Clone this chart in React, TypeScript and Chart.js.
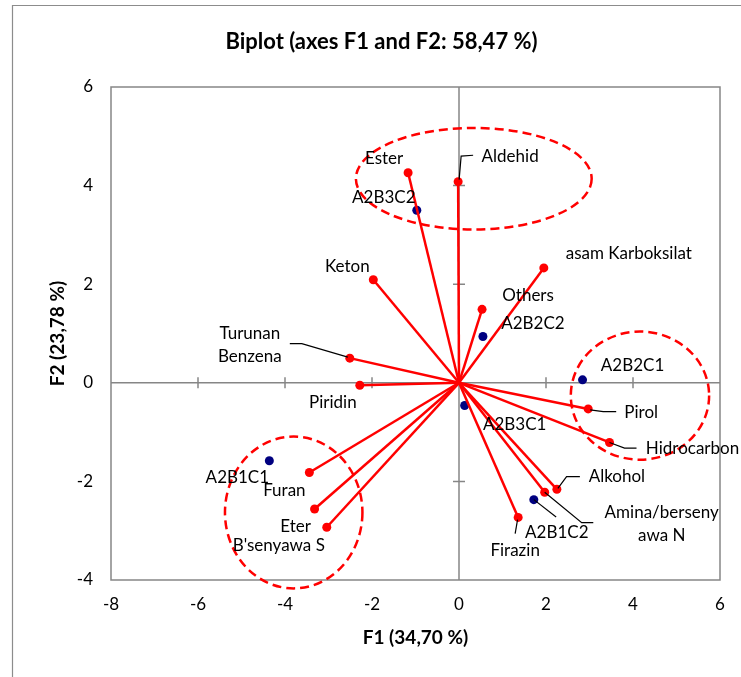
import React, { useEffect, useRef } from "react";
import { Chart, registerables } from "chart.js";

Chart.register(...registerables);

// ---------- data ----------
const variableNames = [
  "Ester",
  "Aldehid",
  "asam Karboksilat",
  "Others",
  "Keton",
  "Turunan\nBenzena",
  "Piridin",
  "Furan",
  "Eter",
  "B'senyawa S",
  "Pirol",
  "Hidrocarbon",
  "Alkohol",
  "Amina/berseny\nawa N",
  "Firazin",
];
const variableF1 = [-1.17, -0.02, 1.95, 0.53, -1.97, -2.51, -2.28, -3.44, -3.32, -3.04, 2.97, 3.46, 2.25, 1.97, 1.36];
const variableF2 = [4.26, 4.08, 2.33, 1.49, 2.09, 0.5, -0.05, -1.82, -2.56, -2.93, -0.53, -1.21, -2.16, -2.22, -2.73];

const observationNames = ["A2B3C2", "A2B2C2", "A2B2C1", "A2B3C1", "A2B1C2", "A2B1C1"];
const observationF1 = [-0.97, 0.55, 2.84, 0.13, 1.72, -4.36];
const observationF2 = [3.5, 0.94, 0.06, -0.46, -2.37, -1.58];

const xTicks = [-8, -6, -4, -2, 0, 2, 4, 6];
const yTicks = [-4, -2, 0, 2, 4, 6];

// dashed group outlines (centre and radii in axis units)
const groupCenterF1 = [0.34, 4.16, -3.8];
const groupCenterF2 = [4.14, -0.26, -2.63];
const groupRadiusF1 = [2.71, 1.59, 1.58];
const groupRadiusF2 = [1.03, 1.3, 1.54];

const chartTitle = "Biplot (axes F1 and F2: 58,47 %)";
const xTitle = "F1 (34,70 %)";
const yTitle = "F2 (23,78 %)";

// ---------- styling / layout ----------
const FONT = "Lato";
const RED = "#FF0000";
const NAVY = "#000080";
const AXIS_GRAY = "#868686";
const FRAME_GRAY = "#8c8c8c";
const LABEL_SIZE = 17;
const AXIS_TITLE_SIZE = 19;

// label centre offsets (px) from its marker
const variableLabelOffsets: [number, number][] = [
  [-24, -14],
  [52, -25],
  [85, -14],
  [46, -14],
  [-26, -13],
  [-100, -13],
  [-27, 17],
  [-25, 18],
  [-19, 18],
  [-48, 18],
  [53, 4],
  [83, 6],
  [60, -13],
  [117, 32],
  [-3, 33],
];
const observationLabelOffsets: [number, number][] = [
  [-33, -13],
  [50, -13],
  [50, -14],
  [50, 19],
  [23, 33],
  [-32, 17],
];
// leader lines (px offsets from marker)
const variableLeaders: ([number, number][] | null)[] = [
  null,
  [[1, -2], [3, -25.5], [15, -26.4]],
  null,
  null,
  null,
  [[-2, -1], [-48, -14.5], [-60, -14.5]],
  null,
  null,
  null,
  null,
  [[2, 1], [15, 2.7], [28, 2.7]],
  [[0, 0], [15, 5.6], [27, 5.6]],
  [[1, -1], [9.7, -12.6], [23, -12.6]],
  [[0, 0], [37, 30.4], [48.6, 30.4]],
  [[-0.6, 2.3], [-3, 16.3]],
];
const observationLeaders: ([number, number][] | null)[] = [
  null,
  null,
  null,
  null,
  [[0, 0], [22.3, 17.3]],
  null,
];

function drawLabel(ctx: CanvasRenderingContext2D, text: string, cx: number, cy: number) {
  const lines = text.split("\n");
  const lh = 23.4;
  const startY = cy - ((lines.length - 1) * lh) / 2;
  lines.forEach((ln, i) => ctx.fillText(ln, cx, startY + i * lh));
}

const biplotPlugin = {
  id: "biplotDecor",
  beforeDraw(chart: any) {
    const { ctx } = chart;
    ctx.save();
    ctx.strokeStyle = FRAME_GRAY;
    ctx.lineWidth = 1.2;
    ctx.beginPath();
    ctx.moveTo(12.5, 700);
    ctx.lineTo(12.5, 5.5);
    ctx.lineTo(760, 5.5);
    ctx.stroke();
    ctx.restore();
  },
  beforeDatasetsDraw(chart: any) {
    const { ctx, chartArea: a, scales } = chart;
    const xs = scales.x;
    const ys = scales.y;
    ctx.save();
    ctx.strokeStyle = AXIS_GRAY;
    ctx.lineWidth = 1.5;
    ctx.strokeRect(a.left, a.top, a.right - a.left, a.bottom - a.top);
    const x0 = xs.getPixelForValue(0);
    const y0 = ys.getPixelForValue(0);
    ctx.beginPath();
    ctx.moveTo(a.left, y0);
    ctx.lineTo(a.right, y0);
    ctx.moveTo(x0, a.top);
    ctx.lineTo(x0, a.bottom);
    xTicks.forEach((v) => {
      if (v > xs.min && v < xs.max && v !== 0) {
        const px = xs.getPixelForValue(v);
        ctx.moveTo(px, y0 - 5.5);
        ctx.lineTo(px, y0 + 5.5);
      }
    });
    yTicks.forEach((v) => {
      if (v > ys.min && v < ys.max && v !== 0) {
        const py = ys.getPixelForValue(v);
        ctx.moveTo(x0 - 6, py);
        ctx.lineTo(x0 + 6, py);
      }
    });
    ctx.stroke();

    // group ellipses
    ctx.strokeStyle = RED;
    ctx.lineWidth = 2.5;
    ctx.setLineDash([9, 5]);
    groupCenterF1.forEach((c1, i) => {
      const cx = xs.getPixelForValue(c1);
      const cy = ys.getPixelForValue(groupCenterF2[i]);
      const rx = Math.abs(xs.getPixelForValue(c1 + groupRadiusF1[i]) - cx);
      const ry = Math.abs(ys.getPixelForValue(groupCenterF2[i] + groupRadiusF2[i]) - cy);
      ctx.beginPath();
      ctx.ellipse(cx, cy, rx, ry, 0, 0, Math.PI * 2);
      ctx.stroke();
    });
    ctx.restore();
  },
  afterDatasetsDraw(chart: any) {
    const { ctx, scales } = chart;
    const xs = scales.x;
    const ys = scales.y;
    ctx.save();
    // leader lines
    ctx.strokeStyle = "#000000";
    ctx.lineWidth = 1.2;
    const leaders = (f1: number[], f2: number[], defs: ([number, number][] | null)[]) => {
      defs.forEach((path, i) => {
        if (!path) return;
        const px = xs.getPixelForValue(f1[i]);
        const py = ys.getPixelForValue(f2[i]);
        ctx.beginPath();
        path.forEach(([dx, dy], k) => {
          if (k === 0) ctx.moveTo(px + dx, py + dy);
          else ctx.lineTo(px + dx, py + dy);
        });
        ctx.stroke();
      });
    };
    leaders(variableF1, variableF2, variableLeaders);
    leaders(observationF1, observationF2, observationLeaders);

    ctx.fillStyle = "#000000";
    ctx.font = `${LABEL_SIZE}px ${FONT}`;
    ctx.textAlign = "center";
    ctx.textBaseline = "middle";
    variableNames.forEach((name, i) => {
      const px = xs.getPixelForValue(variableF1[i]);
      const py = ys.getPixelForValue(variableF2[i]);
      const [dx, dy] = variableLabelOffsets[i];
      drawLabel(ctx, name, px + dx, py + dy);
    });
    observationNames.forEach((name, i) => {
      const px = xs.getPixelForValue(observationF1[i]);
      const py = ys.getPixelForValue(observationF2[i]);
      const [dx, dy] = observationLabelOffsets[i];
      drawLabel(ctx, name, px + dx, py + dy);
    });

    // chart title
    ctx.font = `bold 22px ${FONT}`;
    ctx.fillText(chartTitle, 381.5, 42);
    ctx.restore();
  },
};

export default function App() {
  const canvasRef = useRef<HTMLCanvasElement | null>(null);

  useEffect(() => {
    const canvas = canvasRef.current;
    if (!canvas) return;
    const variableDatasets = variableF1.map((f1, i) => ({
      label: variableNames[i],
      data: [
        { x: 0, y: 0 },
        { x: f1, y: variableF2[i] },
      ],
      showLine: true,
      borderColor: RED,
      borderWidth: 2.5,
      pointRadius: [0, 4.5],
      pointHoverRadius: [0, 4.5],
      pointBackgroundColor: RED,
      pointBorderColor: RED,
      pointBorderWidth: 0,
    }));
    const observationDataset = {
      label: "Observations",
      data: observationF1.map((f1, i) => ({ x: f1, y: observationF2[i] })),
      showLine: false,
      pointRadius: 4.5,
      pointHoverRadius: 4.5,
      pointBackgroundColor: NAVY,
      pointBorderColor: NAVY,
      pointBorderWidth: 0,
    };

    const chart = new Chart(canvas, {
      type: "scatter",
      data: { datasets: [...variableDatasets, observationDataset] as any },
      options: {
        animation: false,
        responsive: false,
        events: [],
        layout: { padding: { top: 87, right: 21, left: 0, bottom: 0 } },
        plugins: {
          legend: { display: false },
          tooltip: { enabled: false },
          title: { display: false },
        },
        scales: {
          x: {
            type: "linear",
            min: xTicks[0],
            max: xTicks[xTicks.length - 1],
            grid: { display: false, drawTicks: false },
            border: { display: false },
            ticks: {
              stepSize: 2,
              padding: 14,
              color: "#000000",
              font: { family: FONT, size: LABEL_SIZE, lineHeight: 1.2 },
            },
            title: {
              display: true,
              text: xTitle,
              color: "#000000",
              font: { family: FONT, size: AXIS_TITLE_SIZE, weight: "bold", lineHeight: 1.2 },
              padding: { top: 0, bottom: 27.3 },
            },
            afterFit: (scale: any) => {
              scale.height = 97;
            },
          },
          y: {
            type: "linear",
            min: yTicks[0],
            max: yTicks[yTicks.length - 1],
            grid: { display: false, drawTicks: false },
            border: { display: false },
            ticks: {
              stepSize: 2,
              padding: 18,
              color: "#000000",
              font: { family: FONT, size: LABEL_SIZE, lineHeight: 1.2 },
            },
            title: {
              display: true,
              text: yTitle,
              color: "#000000",
              font: { family: FONT, size: AXIS_TITLE_SIZE, weight: "bold", lineHeight: 1.2 },
              padding: { top: 46.6, bottom: 0 },
            },
            afterFit: (scale: any) => {
              scale.width = 111;
            },
          },
        },
      } as any,
      plugins: [biplotPlugin],
    });
    return () => chart.destroy();
  }, []);

  return (
    <div style={{ position: "fixed", left: 0, top: 0, width: 741, height: 677, background: "#ffffff" }}>
      <canvas ref={canvasRef} width={741} height={677} style={{ display: "block" }} />
    </div>
  );
}
